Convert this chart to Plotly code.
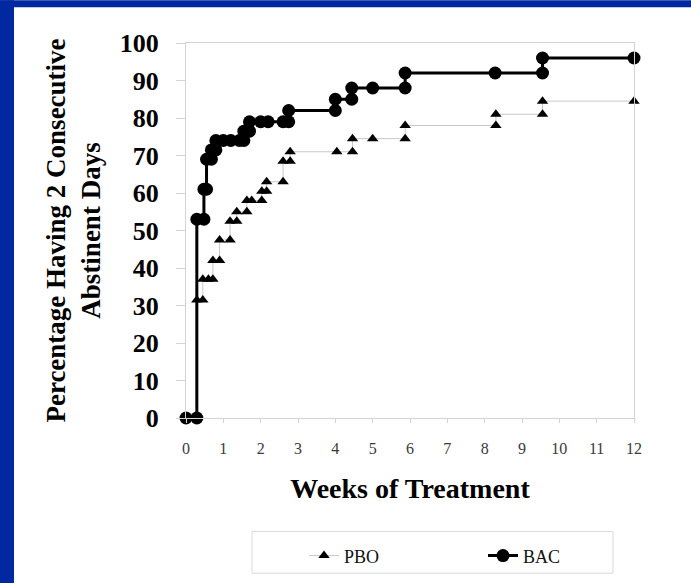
import plotly.graph_objects as go

# Data (weeks of treatment, cumulative percentage)
pbo_weeks = [0, 0.29, 0.29, 0.45, 0.45, 0.6, 0.72, 0.72, 0.9, 0.9, 1.18, 1.18, 1.36, 1.36,
             1.63, 1.63, 1.76, 2.03, 2.03, 2.16, 2.16, 2.6, 2.6, 2.79, 2.79, 4.04, 4.46,
             4.46, 5.0, 5.87, 5.87, 8.3, 8.3, 9.55, 9.55, 12]
pbo_pct = [0, 0, 31.5, 31.5, 37, 37, 37, 42, 42, 47.5, 47.5, 52.5, 52.5, 55,
           55, 58, 58, 58, 60.5, 60.5, 63, 63, 68.5, 68.5, 71, 71, 71,
           74.5, 74.5, 74.5, 78, 78, 81, 81, 84.5, 84.5]

bac_weeks = [0, 0.29, 0.29, 0.48, 0.48, 0.55, 0.55, 0.68, 0.68, 0.8, 0.8, 1.0, 1.2, 1.43,
             1.55, 1.55, 1.7, 1.7, 2.0, 2.2, 2.6, 2.75, 2.75, 4.0, 4.0, 4.44, 4.44, 5.0,
             5.87, 5.87, 8.28, 9.55, 9.55, 12]
bac_pct = [0, 0, 53, 53, 61, 61, 69, 69, 71.5, 71.5, 74, 74, 74, 74,
           74, 76.5, 76.5, 79, 79, 79, 79, 79, 82, 82, 85, 85, 88, 88,
           88, 92, 92, 92, 96, 96]

x_ticks = list(range(0, 13))
y_ticks = list(range(0, 101, 10))

SERIF = "Liberation Serif"
BLUE = "#0028a0"
AXIS_GRAY = "#d4d4d4"

fig = go.Figure()
fig.add_trace(go.Scatter(
    x=pbo_weeks, y=pbo_pct, name="PBO", mode="lines+markers",
    line=dict(color="#c8c8c8", width=1),
    marker=dict(symbol="triangle-up", size=10, color="black"),
    cliponaxis=False,
))
fig.add_trace(go.Scatter(
    x=bac_weeks, y=bac_pct, name="BAC", mode="lines+markers",
    line=dict(color="black", width=3),
    marker=dict(symbol="circle", size=13, color="black"),
    cliponaxis=False,
))

W, H = 691, 586
L, R, T, B = 186, 57, 43, 166
pw, ph = W - L - R, H - T - B

def px2x(px):
    return (px - L) / pw

def py2y(py):
    return (H - B - py) / ph

shapes = [
    # blue frame strips (left and top)
    dict(type="rect", xref="paper", yref="paper", x0=px2x(0), x1=px2x(14),
         y0=py2y(H), y1=py2y(0), fillcolor=BLUE, line=dict(width=0), layer="below"),
    dict(type="rect", xref="paper", yref="paper", x0=px2x(0), x1=px2x(W),
         y0=py2y(7), y1=py2y(0), fillcolor=BLUE, line=dict(width=0), layer="below"),
    # legend box
    dict(type="rect", xref="paper", yref="paper", x0=px2x(252), x1=px2x(613),
         y0=py2y(576), y1=py2y(534), line=dict(color="#d9d9d9", width=1),
         fillcolor="rgba(0,0,0,0)", layer="below"),
]

fig.update_layout(
    width=W, height=H,
    margin=dict(l=L, r=R, t=T, b=B, pad=0),
    paper_bgcolor="white", plot_bgcolor="white",
    shapes=shapes,
    showlegend=True,
    legend=dict(
        orientation="h", x=px2x(304), y=py2y(540), xanchor="left", yanchor="top",
        font=dict(family=SERIF, size=18, color="#111111"),
        entrywidth=134, entrywidthmode="pixels",
        bgcolor="rgba(0,0,0,0)", borderwidth=0,
    ),
    xaxis=dict(
        range=[0, 12], tickvals=x_ticks, ticktext=[str(v) for v in x_ticks],
        showgrid=False, zeroline=False,
        showline=True, linecolor=AXIS_GRAY, linewidth=1, mirror=True,
        ticks="outside", ticklen=4, tickcolor=AXIS_GRAY,
        tickfont=dict(family=SERIF, size=16, color="#3a3a3a"),
        ticklabelstandoff=12,
        title=dict(text="Weeks of Treatment", standoff=22,
                   font=dict(family=SERIF, size=28, color="black", weight="bold")),
    ),
    yaxis=dict(
        range=[0, 100], tickvals=y_ticks, ticktext=[str(v) for v in y_ticks],
        showgrid=False, zeroline=False,
        showline=True, linecolor=AXIS_GRAY, linewidth=1, mirror=True,
        ticks="outside", ticklen=9, tickcolor=AXIS_GRAY,
        tickfont=dict(family=SERIF, size=26, color="black", weight="bold"),
        ticklabelstandoff=12,
        title=dict(text="Percentage Having 2 Consecutive<br>Abstinent Days", standoff=11,
                   font=dict(family=SERIF, size=27, color="black", weight="bold")),
    ),
)

fig.write_html("out.html")
